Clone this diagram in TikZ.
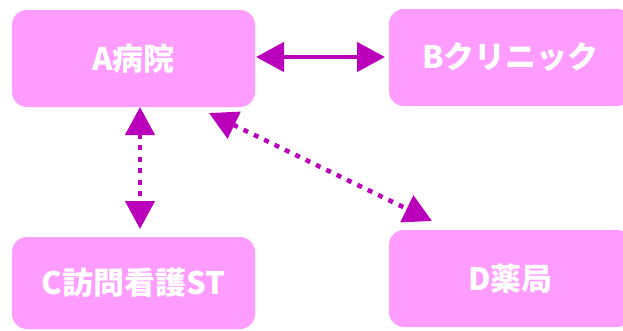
\documentclass[tikz,border=0pt]{standalone}
\usepackage{fontspec}
\newfontfamily\jp{Noto Sans CJK JP}
\usetikzlibrary{arrows.meta}
\definecolor{boxpink}{HTML}{FF9CFF}
\definecolor{arrowmag}{HTML}{BB00BB}
\tikzset{
  box/.style={draw=none, fill=boxpink, rounded corners=15pt, minimum width=243pt, inner sep=0pt, text=white, font=\jp\bfseries\fontsize{31}{31}\selectfont},
  conn/.style={draw=arrowmag, line width=4.5pt, {Triangle[length=28pt,width=29pt]}-{Triangle[length=28pt,width=29pt]}},
  dotconn/.style={conn, dash pattern=on 5pt off 6.5pt}
}
\begin{document}
\begin{tikzpicture}[x=1pt,y=-1pt]
\useasboundingbox (0,0) rectangle (623,330);
\clip (0,0) rectangle (623,330);
\node[box, minimum height=97pt] (A) at (133.5,58.5) {A病院};
\node[box, minimum height=97pt] (B) at (510.5,57.5) {Bクリニック};
\node[box, minimum height=92pt] (C) at (133.5,283) {C訪問看護ST};
\node[box, minimum height=97pt] (D) at (510.5,278.5) {D薬局};
\coordinate (ab1) at (256,57);
\coordinate (ab2) at (385,57);
\coordinate (ac1) at (140,107);
\coordinate (ac2) at (140,229);
\coordinate (ad1) at (209,113);
\coordinate (ad2) at (432,221);
\draw[conn] (ab1) -- (ab2);
\draw[dotconn] (ac1) -- (ac2);
\draw[dotconn] (ad1) -- (ad2);
\end{tikzpicture}
\end{document}
